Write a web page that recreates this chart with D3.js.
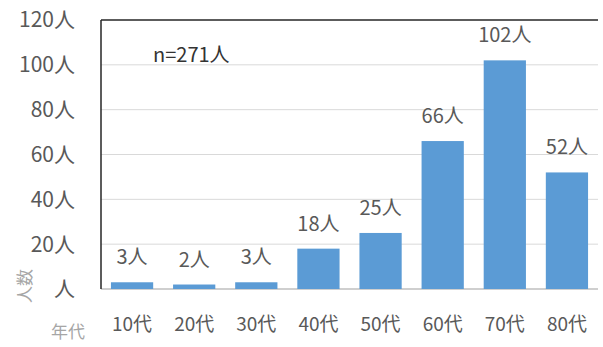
<!DOCTYPE html>
<html>
<head>
<meta charset="utf-8">
<script src="https://cdn.jsdelivr.net/npm/d3@7"></script>
<style>
  body { margin: 0; background: #fff; }
  text { font-family: "Noto Sans CJK JP", "Open Sans", sans-serif; fill: #595959; }
</style>
</head>
<body>
<svg id="chart" width="603" height="347"></svg>
<script>
const categories = ['10代', '20代', '30代', '40代', '50代', '60代', '70代', '80代'];
const counts = [3, 2, 3, 18, 25, 66, 102, 52];
const yTicks = [0, 20, 40, 60, 80, 100, 120];
const totalLabel = 'n=271人';

const svg = d3.select('#chart');
const margin = { top: 20, right: 5, bottom: 58, left: 101 };
const width = 603 - margin.left - margin.right;
const height = 347 - margin.top - margin.bottom;

const x = d3.scaleBand().domain(categories).range([0, width]).paddingInner(0.32).paddingOuter(0.16);
const y = d3.scaleLinear().domain([0, 120]).range([height, 0]);

const g = svg.append('g').attr('transform', `translate(${margin.left},${margin.top})`);

// gridlines
g.selectAll('.grid')
  .data(yTicks.slice(1, -1))
  .enter().append('line')
  .attr('x1', 0).attr('x2', width)
  .attr('y1', d => y(d)).attr('y2', d => y(d))
  .style('stroke', '#d9d9d9').style('stroke-width', 1);

// baseline
g.append('line')
  .attr('x1', 0).attr('x2', width)
  .attr('y1', y(0)).attr('y2', y(0))
  .style('stroke', '#bfbfbf').style('stroke-width', 1.5);

// top border
g.append('line')
  .attr('x1', 0).attr('x2', width)
  .attr('y1', y(120)).attr('y2', y(120))
  .style('stroke', '#262626').style('stroke-width', 1.5);

// bars
g.selectAll('.bar')
  .data(counts)
  .enter().append('rect')
  .attr('class', 'bar')
  .attr('x', (d, i) => x(categories[i]))
  .attr('y', d => y(d))
  .attr('width', x.bandwidth())
  .attr('height', d => y(0) - y(d))
  .style('fill', '#5b9bd5');

// value labels
g.selectAll('.val')
  .data(counts)
  .enter().append('text')
  .attr('x', (d, i) => x(categories[i]) + x.bandwidth() / 2)
  .attr('y', d => y(d) - 18)
  .attr('text-anchor', 'middle')
  .style('font-size', '20px')
  .text(d => `${d}人`);

// left axis line
g.append('line')
  .attr('x1', 0).attr('x2', 0)
  .attr('y1', 0).attr('y2', height)
  .style('stroke', '#262626').style('stroke-width', 1.5);

// y tick labels
g.selectAll('.ytick')
  .data(yTicks)
  .enter().append('text')
  .attr('x', -26)
  .attr('y', d => y(d))
  .attr('dy', '0.35em')
  .attr('text-anchor', 'end')
  .style('font-size', '21px')
  .text(d => d === 0 ? '人' : `${d}人`);

// x labels
g.selectAll('.xlab')
  .data(categories)
  .enter().append('text')
  .attr('x', d => x(d) + x.bandwidth() / 2)
  .attr('y', height + 42)
  .attr('text-anchor', 'middle')
  .style('font-size', '19px')
  .text(d => d);

// total
svg.append('text')
  .attr('x', 153).attr('y', 62)
  .style('font-size', '20px')
  .style('fill', '#333')
  .text(totalLabel);

// axis titles
svg.append('text')
  .attr('transform', 'translate(25,286) rotate(-90)')
  .attr('text-anchor', 'middle')
  .attr('dy', '0.35em')
  .style('font-size', '17px')
  .style('fill', '#a6a6a6')
  .text('人数');

svg.append('text')
  .attr('x', 68).attr('y', 332)
  .attr('text-anchor', 'middle')
  .attr('dy', '0.35em')
  .style('font-size', '17px')
  .style('fill', '#a6a6a6')
  .text('年代');
</script>
</body>
</html>
